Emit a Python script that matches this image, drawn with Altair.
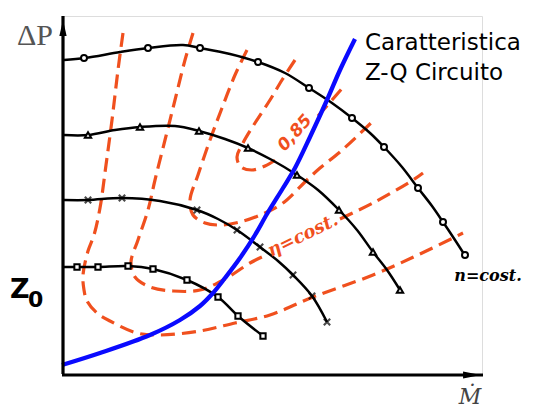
import altair as alt
import pandas as pd

# ---- speed lines (n = cost.) : x = mass flow, y = delta P (arbitrary units) ----
n1_x = [2, 23, 58, 86, 121, 138, 168, 196, 223, 247, 270, 290, 308, 322, 340, 356, 370, 381, 393, 402]
n1_y = [314, 316, 322, 326, 329, 326, 320, 312, 301, 286, 271, 256, 241, 227, 207, 186, 168, 152, 134, 120]
n1_mx = [22, 86, 138, 196, 247, 290, 322, 356, 381, 403]
n1_my = [316, 326, 326, 312, 286, 256, 227, 186, 152, 119]

n2_x = [2, 26, 53, 78, 113, 137, 163, 186, 210, 235, 256, 277, 295, 311, 325, 338]
n2_y = [239, 239, 244, 247, 248, 243, 235, 226, 214, 199, 184, 164, 144, 122, 104, 84]
n2_mx = [26, 78, 137, 186, 235, 277, 311, 338]
n2_my = [239, 247, 243, 226, 199, 164, 122, 84]

n3_x = [2, 26, 60, 98, 135, 156, 175, 198, 216, 231, 250, 265]
n3_y = [174, 174, 176, 173, 164, 155, 144, 127, 113, 99, 78, 52]
n3_mx = [26, 60, 135, 175, 198, 231, 250, 265]
n3_my = [174, 176, 164, 144, 127, 99, 78, 52]

n4_x = [2, 15, 36, 66, 91, 125, 156, 176, 201]
n4_y = [107, 107, 107, 108, 105, 94, 77, 58, 38]
n4_mx = [15, 36, 66, 91, 125, 156, 176, 201]
n4_my = [107, 107, 108, 105, 94, 77, 58, 38]

# ---- circuit characteristic Z-Q ----
blue_x = [0, 38, 88, 118, 138, 151, 163, 178, 193, 205, 221, 233, 248, 265, 278, 293]
blue_y = [9, 21, 39, 54, 68, 81, 96, 116, 139, 160, 186, 206, 237, 274, 304, 335]

# ---- efficiency curves (eta = cost.) ----
e0a_x = [233, 220, 208, 193, 181, 175, 179, 190, 203, 218]
e0a_y = [314, 294, 274, 251, 231, 217, 207, 204, 208, 217]
e0b_x = [256, 270, 283]
e0b_y = [258, 274, 289]

e1_x = [185, 173, 160, 148, 136, 128, 131, 143, 158, 178, 203, 221, 245, 258, 278, 310]
e1_y = [324, 299, 266, 234, 199, 174, 159, 151, 149, 152, 161, 171, 194, 206, 222, 252]

e2a_x = [131, 123, 113, 103, 93, 86, 76, 69, 73, 88, 111, 138, 163, 188, 200]
e2a_y = [341, 314, 274, 234, 194, 164, 134, 112, 97, 87, 83, 84, 95, 111, 117]
e2b_x = [278, 311, 351, 361]
e2b_y = [155, 171, 194, 201]

e3_x = [61, 56, 50, 44, 38, 32, 26, 21, 22, 25, 35, 48, 75, 98, 138, 173, 208, 251, 311, 358, 401]
e3_y = [341, 304, 254, 209, 166, 139, 123, 99, 84, 73, 61, 53, 41, 39, 43, 51, 59, 77, 99, 120, 141]

ORANGE = "#f0501e"
BLUE = "#0a0aff"

X = alt.Scale(domain=[0, 420], nice=False, zero=False)
Y = alt.Scale(domain=[0, 358], nice=False, zero=False)


def series(name, xs, ys):
    return pd.DataFrame({"s": name, "i": range(len(xs)), "x": xs, "y": ys})


def enc(chart):
    return chart.encode(
        x=alt.X("x:Q", scale=X, axis=None),
        y=alt.Y("y:Q", scale=Y, axis=None),
    )


black_df = pd.concat([series("n1", n1_x, n1_y), series("n2", n2_x, n2_y),
                      series("n3", n3_x, n3_y), series("n4", n4_x, n4_y)])
orange_df = pd.concat([series("e0a", e0a_x, e0a_y), series("e0b", e0b_x, e0b_y),
                       series("e1", e1_x, e1_y), series("e2a", e2a_x, e2a_y),
                       series("e2b", e2b_x, e2b_y), series("e3", e3_x, e3_y)])
blue_df = series("z", blue_x, blue_y)

black_lines = enc(alt.Chart(black_df).mark_line(
    color="black", strokeWidth=2.5, interpolate="catmull-rom")).encode(
    detail="s:N", order="i:Q")
orange_lines = enc(alt.Chart(orange_df).mark_line(
    color=ORANGE, strokeWidth=3.2, strokeDash=[14, 7], interpolate="catmull-rom")).encode(
    detail="s:N", order="i:Q")
blue_line = enc(alt.Chart(blue_df).mark_line(
    color=BLUE, strokeWidth=4.3, interpolate="catmull-rom")).encode(order="i:Q")


def markers(xs, ys, shape, size, angle=0):
    df = pd.DataFrame({"x": xs, "y": ys})
    return enc(alt.Chart(df).mark_point(
        shape=shape, size=size, filled=True, fill="white", stroke="black",
        strokeWidth=2, angle=angle, opacity=1))


m1 = markers(n1_mx, n1_my, "circle", 36)
m2 = markers(n2_mx, n2_my, "triangle-up", 40)
m3 = enc(alt.Chart(pd.DataFrame({"x": n3_mx, "y": n3_my})).mark_point(
    shape="M-1,-1L1,1M-1,1L1,-1", size=40, filled=False, stroke="black", strokeWidth=2.2))
m4 = markers(n4_mx, n4_my, "square", 28)

# axes with arrows
axis_x = [1, 1, 0, 421]
axis_y = [0, 358, -1, -1]
axes_df = pd.DataFrame({"s": ["v", "v", "h", "h"], "x": axis_x, "y": axis_y})
axes = enc(alt.Chart(axes_df).mark_line(color="black", strokeWidth=3.2)).encode(detail="s:N")
arrow_up = enc(alt.Chart(pd.DataFrame({"x": [1], "y": [346]})).mark_point(
    shape="M0,-1L0.45,1L-0.45,1Z", size=260, filled=True, color="black", opacity=1))
arrow_right = enc(alt.Chart(pd.DataFrame({"x": [410], "y": [-1]})).mark_point(
    shape="M1,0L-1,0.4L-1,-0.4Z", size=320, filled=True, color="black", opacity=1))


def label(txt, x, y, **kw):
    return enc(alt.Chart(pd.DataFrame({"x": [x], "y": [y], "t": [txt]})).mark_text(**kw)).encode(
        text="t:N")


texts = [
    label("ΔP", -27, 329, font="Liberation Serif", fontSize=30, color="#555555",
          align="center", baseline="alphabetic"),
    label("Ṁ", 408, -30, font="DejaVu Serif", fontStyle="italic", fontSize=22, color="#444444",
          align="center", baseline="alphabetic"),
    label("Caratteristica", 303, 324, font="DejaVu Sans", fontSize=23, color="black",
          align="left", baseline="alphabetic"),
    label("Z-Q Circuito", 303, 294, font="DejaVu Sans", fontSize=23, color="black",
          align="left", baseline="alphabetic"),
    label("Z", -52, 76, font="DejaVu Sans", fontWeight="bold", fontSize=27, color="black",
          align="left", baseline="alphabetic"),
    label("0", -34, 67, font="DejaVu Sans", fontWeight="bold", fontSize=22, color="black",
          align="left", baseline="alphabetic"),
    label("0,85", 233, 241, font="DejaVu Sans", fontStyle="italic", fontWeight="bold",
          fontSize=17, color=ORANGE, angle=312, align="center", baseline="middle"),
    label("η=cost.", 241, 138, font="DejaVu Serif", fontStyle="italic", fontWeight="bold",
          fontSize=18, color=ORANGE, angle=334, align="center", baseline="middle"),
    label("n=cost.", 426, 98, font="DejaVu Serif", fontStyle="italic", fontWeight="bold",
          fontSize=16, color="black", align="center", baseline="middle"),
]

chart = alt.layer(
    orange_lines, black_lines, m1, m2, m3, m4, blue_line, axes, arrow_up, arrow_right, *texts
).properties(
    width=420, height=358,
    autosize=alt.AutoSizeParams(type="none"),
    padding={"left": 54, "right": 49, "top": 8, "bottom": 34},
).configure_view(stroke=None).configure(background="white")

chart.save("out.html", embed_options={"renderer": "svg", "actions": False})
